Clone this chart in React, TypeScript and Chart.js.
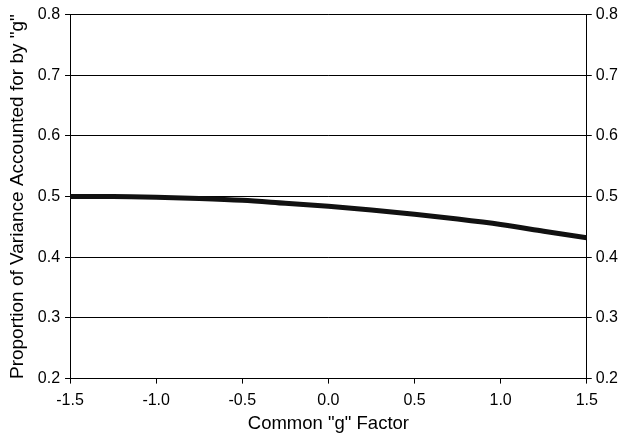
import React, { useEffect, useRef } from "react";
import { Chart, registerables } from "chart.js";

Chart.register(...registerables);

const xValues = [-1.5, -1.25, -1.0, -0.75, -0.5, -0.25, 0, 0.25, 0.5, 0.75, 1.0, 1.25, 1.5];
const yValues = [0.5, 0.5, 0.499, 0.497, 0.494, 0.489, 0.484, 0.478, 0.471, 0.463, 0.454, 0.443, 0.432];
const xTitle = 'Common "g" Factor';
const yTitle = 'Proportion of Variance Accounted for by "g"';
const FONT = "'Liberation Sans', Arial, Helvetica, sans-serif";

export default function App() {
  const ref = useRef<HTMLCanvasElement | null>(null);
  useEffect(() => {
    document.body.style.margin = "0";
    const ctx = ref.current!;
    const tickFont = { family: FONT, size: 16 };
    const chart = new Chart(ctx, {
      type: "line",
      data: {
        datasets: [
          {
            data: xValues.map((x, i) => ({ x, y: yValues[i] })),
            borderColor: "#111",
            borderWidth: 5,
            pointRadius: 0,
            tension: 0.4,
            cubicInterpolationMode: "monotone",
            fill: false,
            yAxisID: "y",
          },
        ],
      },
      options: {
        responsive: false,
        animation: false,
        maintainAspectRatio: false,
        layout: { padding: { top: 7, right: 8, left: 6, bottom: 7 } },
        plugins: { legend: { display: false }, tooltip: { enabled: false } },
        scales: {
          x: {
            type: "linear",
            min: -1.5,
            max: 1.5,
            ticks: {
              stepSize: 0.5,
              color: "#000",
              font: tickFont,
              padding: 7,
              callback: (v: any) => Number(v).toFixed(1),
              maxRotation: 0,
            },
            grid: { drawOnChartArea: false, tickLength: 5, color: "#000", tickColor: "#000" },
            border: { color: "#000", width: 1 },
            title: { display: true, text: xTitle, color: "#000", font: { family: FONT, size: 18.5 }, padding: { top: -4, bottom: 0 } },
          },
          y: {
            position: "left",
            min: 0.2,
            max: 0.8,
            ticks: {
              stepSize: 0.1,
              color: "#000",
              font: tickFont,
              padding: 5,
              callback: (v: any) => Number(v).toFixed(1),
            },
            grid: { drawOnChartArea: true, tickLength: 5, color: "#000", tickColor: "#000", lineWidth: 1 },
            border: { color: "#000", width: 1 },
            title: { display: true, text: yTitle, color: "#000", font: { family: FONT, size: 19 }, padding: { top: 0, bottom: 4 } },
          },
          y2: {
            position: "right",
            min: 0.2,
            max: 0.8,
            ticks: {
              stepSize: 0.1,
              color: "#000",
              font: tickFont,
              padding: 4,
              callback: (v: any) => Number(v).toFixed(1),
            },
            grid: { drawOnChartArea: false, tickLength: 5, color: "#000", tickColor: "#000" },
            border: { color: "#000", width: 1 },
          },
        },
      },
    });
    return () => chart.destroy();
  }, []);
  return (
    <div style={{ width: 630, height: 442, background: "#fff" }}>
      <canvas ref={ref} width={630} height={442} style={{ width: 630, height: 442 }} />
    </div>
  );
}
